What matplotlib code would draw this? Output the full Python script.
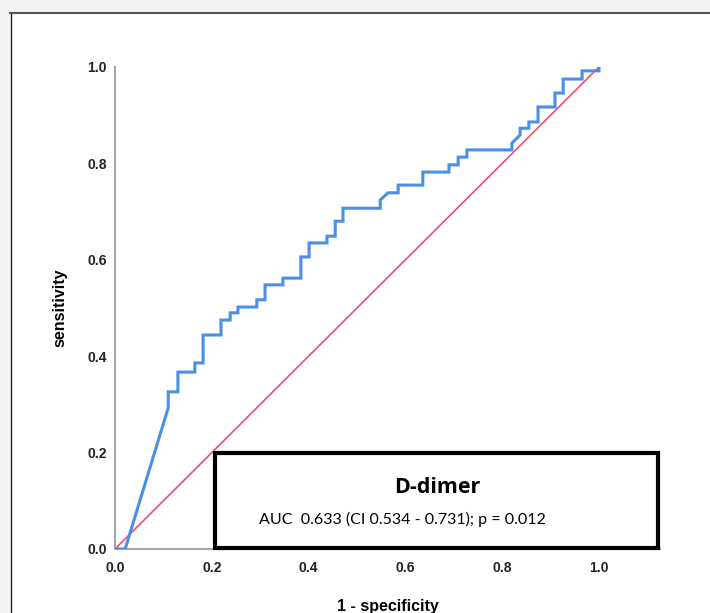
import matplotlib
matplotlib.use("Agg")
import matplotlib.pyplot as plt
from matplotlib.patches import Rectangle

# ROC curve points (1 - specificity, sensitivity)
fpr = [0.0, 0.021, 0.110, 0.110, 0.130, 0.130, 0.165, 0.165, 0.182, 0.182,
       0.219, 0.219, 0.238, 0.238, 0.254, 0.254, 0.293, 0.293, 0.310, 0.310,
       0.347, 0.347, 0.384, 0.384, 0.401, 0.401, 0.438, 0.438, 0.455, 0.455,
       0.471, 0.471, 0.548, 0.548, 0.564, 0.585, 0.585, 0.636, 0.636, 0.690,
       0.690, 0.709, 0.709, 0.727, 0.727, 0.820, 0.820, 0.837, 0.837, 0.855,
       0.855, 0.874, 0.874, 0.909, 0.909, 0.926, 0.926, 0.965, 0.965, 1.0, 1.0]
tpr = [0.0, 0.0, 0.293, 0.326, 0.326, 0.367, 0.367, 0.386, 0.386, 0.444,
       0.444, 0.475, 0.475, 0.490, 0.490, 0.502, 0.502, 0.517, 0.517, 0.548,
       0.548, 0.562, 0.562, 0.606, 0.606, 0.635, 0.635, 0.649, 0.649, 0.680,
       0.680, 0.707, 0.707, 0.724, 0.739, 0.739, 0.755, 0.755, 0.782, 0.782,
       0.797, 0.797, 0.813, 0.813, 0.828, 0.828, 0.842, 0.859, 0.873, 0.873,
       0.886, 0.886, 0.917, 0.917, 0.946, 0.946, 0.975, 0.975, 0.992, 0.992, 1.0]
ref_line = [0.0, 1.0]
ticks = [0.0, 0.2, 0.4, 0.6, 0.8, 1.0]
tick_labels = ["0.0", "0.2", "0.4", "0.6", "0.8", "1.0"]

title = "D-dimer"
auc_text = "AUC  0.633 (CI 0.534 - 0.731); p = 0.012"

W, H = 710, 613
fig = plt.figure(figsize=(W / 100, H / 100), dpi=100, facecolor="#f2f2f2")

# white panel with dark left/top border
fig.patches.append(Rectangle((10 / W, 0), 1, (H - 13) / H, transform=fig.transFigure,
                             facecolor="white", edgecolor="none", zorder=-10))
fig.add_artist(plt.Line2D([10.5 / W, 10.5 / W], [0, (H - 13) / H], color="#222222",
                          lw=1, zorder=-5))
fig.add_artist(plt.Line2D([10 / W, 1], [(H - 13) / H, (H - 13) / H], color="#555555",
                          lw=1.5, zorder=-5))

ax = fig.add_axes([115 / W, 64 / H, 545 / W, 482 / H])
ax.set_facecolor("none")
ax.set_zorder(1)

ax.plot(ref_line, ref_line, color="#ee4d6f", lw=1.2, zorder=2)
ax.plot(fpr, tpr, color="#4a8fe6", lw=2.2, zorder=3, solid_joinstyle="miter")

ax.set_xlim(0, 1.126)
ax.set_ylim(0, 1.0)
for s in ["top", "right"]:
    ax.spines[s].set_visible(False)
for s in ["left", "bottom"]:
    ax.spines[s].set_color("#a6a6a6")
    ax.spines[s].set_linewidth(1.5)

ax.set_xticks(ticks)
ax.set_xticklabels(tick_labels)
ax.set_yticks(ticks)
ax.set_yticklabels(tick_labels)
ax.tick_params(length=0, labelsize=10)
for lab in ax.get_xticklabels() + ax.get_yticklabels():
    lab.set_fontweight("bold")
    lab.set_fontfamily("Liberation Sans")
    lab.set_color("#222222")
ax.tick_params(axis="x", pad=9)
ax.tick_params(axis="y", pad=6)

ax.set_xlabel("1 - specificity", fontsize=11.5, fontweight="bold",
              family="Liberation Sans", labelpad=17)
ax.set_ylabel("sensitivity", fontsize=11.5, fontweight="bold",
              family="Liberation Sans", labelpad=14)

# annotation box
ax.add_patch(Rectangle((0.207, 0.003), 0.914, 0.196, facecolor="white",
                       edgecolor="black", lw=3, zorder=4, clip_on=False))
ax.text(0.665, 0.127, title, ha="center", va="center", fontsize=15.5,
        fontweight="bold", family="Open Sans", zorder=5)
ax.text(0.593, 0.062, auc_text, ha="center", va="center", fontsize=11.5,
        family="Lato", zorder=5)

fig.savefig("out.png", dpi=100, facecolor=fig.get_facecolor())
